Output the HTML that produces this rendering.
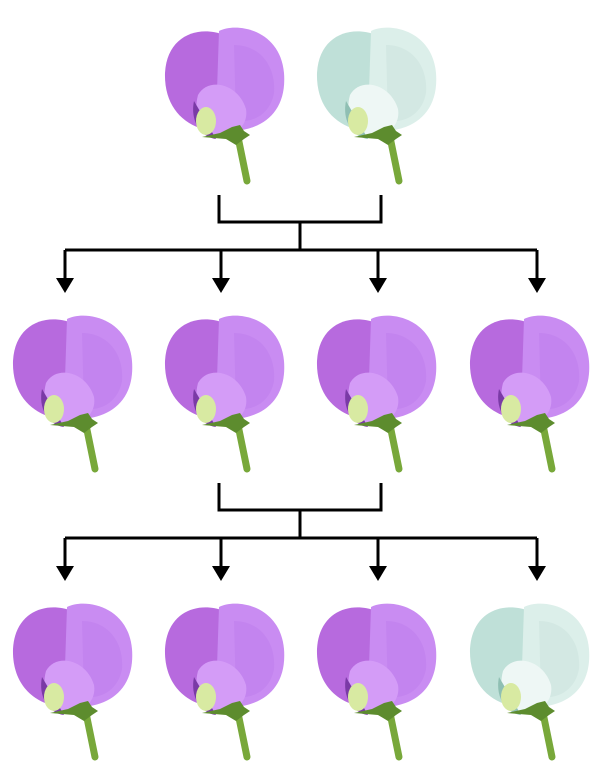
<!DOCTYPE html>
<html><head><style>body{margin:0;background:#fff}svg{display:block}</style></head><body>
<svg width="606" height="777" viewBox="0 0 606 777" xmlns="http://www.w3.org/2000/svg">
<defs>
<g id="fp">
<line x1="74" y1="112" x2="83" y2="156" stroke="#78a83a" stroke-width="7" stroke-linecap="round"/>
<path d="M60,10 C35,0 3,10 1,48 C0,82 20,102 48,106 L62,98 Z" fill="#b76ade"/>
<path d="M55,6 C72,-3 116,4 120,48 C123,86 100,104 70,106 L52,96 Z" fill="#c98cf2"/>
<path d="M70,20 C95,20 112,40 110,68 C106,90 88,98 72,96 Z" fill="#bf7eec" opacity="0.6"/>
<path d="M34,70 C44,52 74,58 82,84 C85,102 68,114 50,112 C36,108 29,88 34,70 Z" fill="#d49cf7"/>
<path d="M30,76 C26,95 36,112 52,114 L44,100 Z" fill="#7a3aa6"/>
<ellipse cx="42" cy="96" rx="10" ry="14" fill="#d8eaa2"/>
<path d="M38,112 L56,108 L68,102 L76,100 L80,106 L86,110 L80,114 L72,120 L62,114 Z" fill="#5d8c2e"/>
</g>
<g id="fw">
<line x1="74" y1="112" x2="83" y2="156" stroke="#78a83a" stroke-width="7" stroke-linecap="round"/>
<path d="M60,10 C35,0 3,10 1,48 C0,82 20,102 48,106 L62,98 Z" fill="#bfe0d8"/>
<path d="M55,6 C72,-3 116,4 120,48 C123,86 100,104 70,106 L52,96 Z" fill="#dcefea"/>
<path d="M70,20 C95,20 112,40 110,68 C106,90 88,98 72,96 Z" fill="#cfe6e0" opacity="0.7"/>
<path d="M34,70 C44,52 74,58 82,84 C85,102 68,114 50,112 C36,108 29,88 34,70 Z" fill="#eef7f5"/>
<path d="M30,76 C26,95 36,112 52,114 L44,100 Z" fill="#8fbfb3"/>
<ellipse cx="42" cy="96" rx="10" ry="14" fill="#d8eaa2"/>
<path d="M38,112 L56,108 L68,102 L76,100 L80,106 L86,110 L80,114 L72,120 L62,114 Z" fill="#5d8c2e"/>
</g>
<path id="ar" d="M-9,0 L9,0 L0,15 Z" fill="#000"/>
</defs>
<use href="#fp" x="164" y="25"/>
<use href="#fw" x="316" y="25"/>
<use href="#fp" x="12" y="313"/>
<use href="#fp" x="164" y="313"/>
<use href="#fp" x="316" y="313"/>
<use href="#fp" x="469" y="313"/>
<use href="#fp" x="12" y="601"/>
<use href="#fp" x="164" y="601"/>
<use href="#fp" x="316" y="601"/>
<use href="#fw" x="469" y="601"/>
<g stroke="#000" stroke-width="3" fill="none">
<path d="M219,195 V222 H381 V195 M300,222 V250 M65,250 H537 M65,250 V278 M221,250 V278 M378,250 V278 M537,250 V278"/>
<path d="M219,483 V510 H381 V483 M300,510 V538 M65,538 H537 M65,538 V566 M221,538 V566 M378,538 V566 M537,538 V566"/>
</g>
<use href="#ar" x="65" y="278"/><use href="#ar" x="221" y="278"/><use href="#ar" x="378" y="278"/><use href="#ar" x="537" y="278"/>
<use href="#ar" x="65" y="566"/><use href="#ar" x="221" y="566"/><use href="#ar" x="378" y="566"/><use href="#ar" x="537" y="566"/>
</svg>
</body></html>
